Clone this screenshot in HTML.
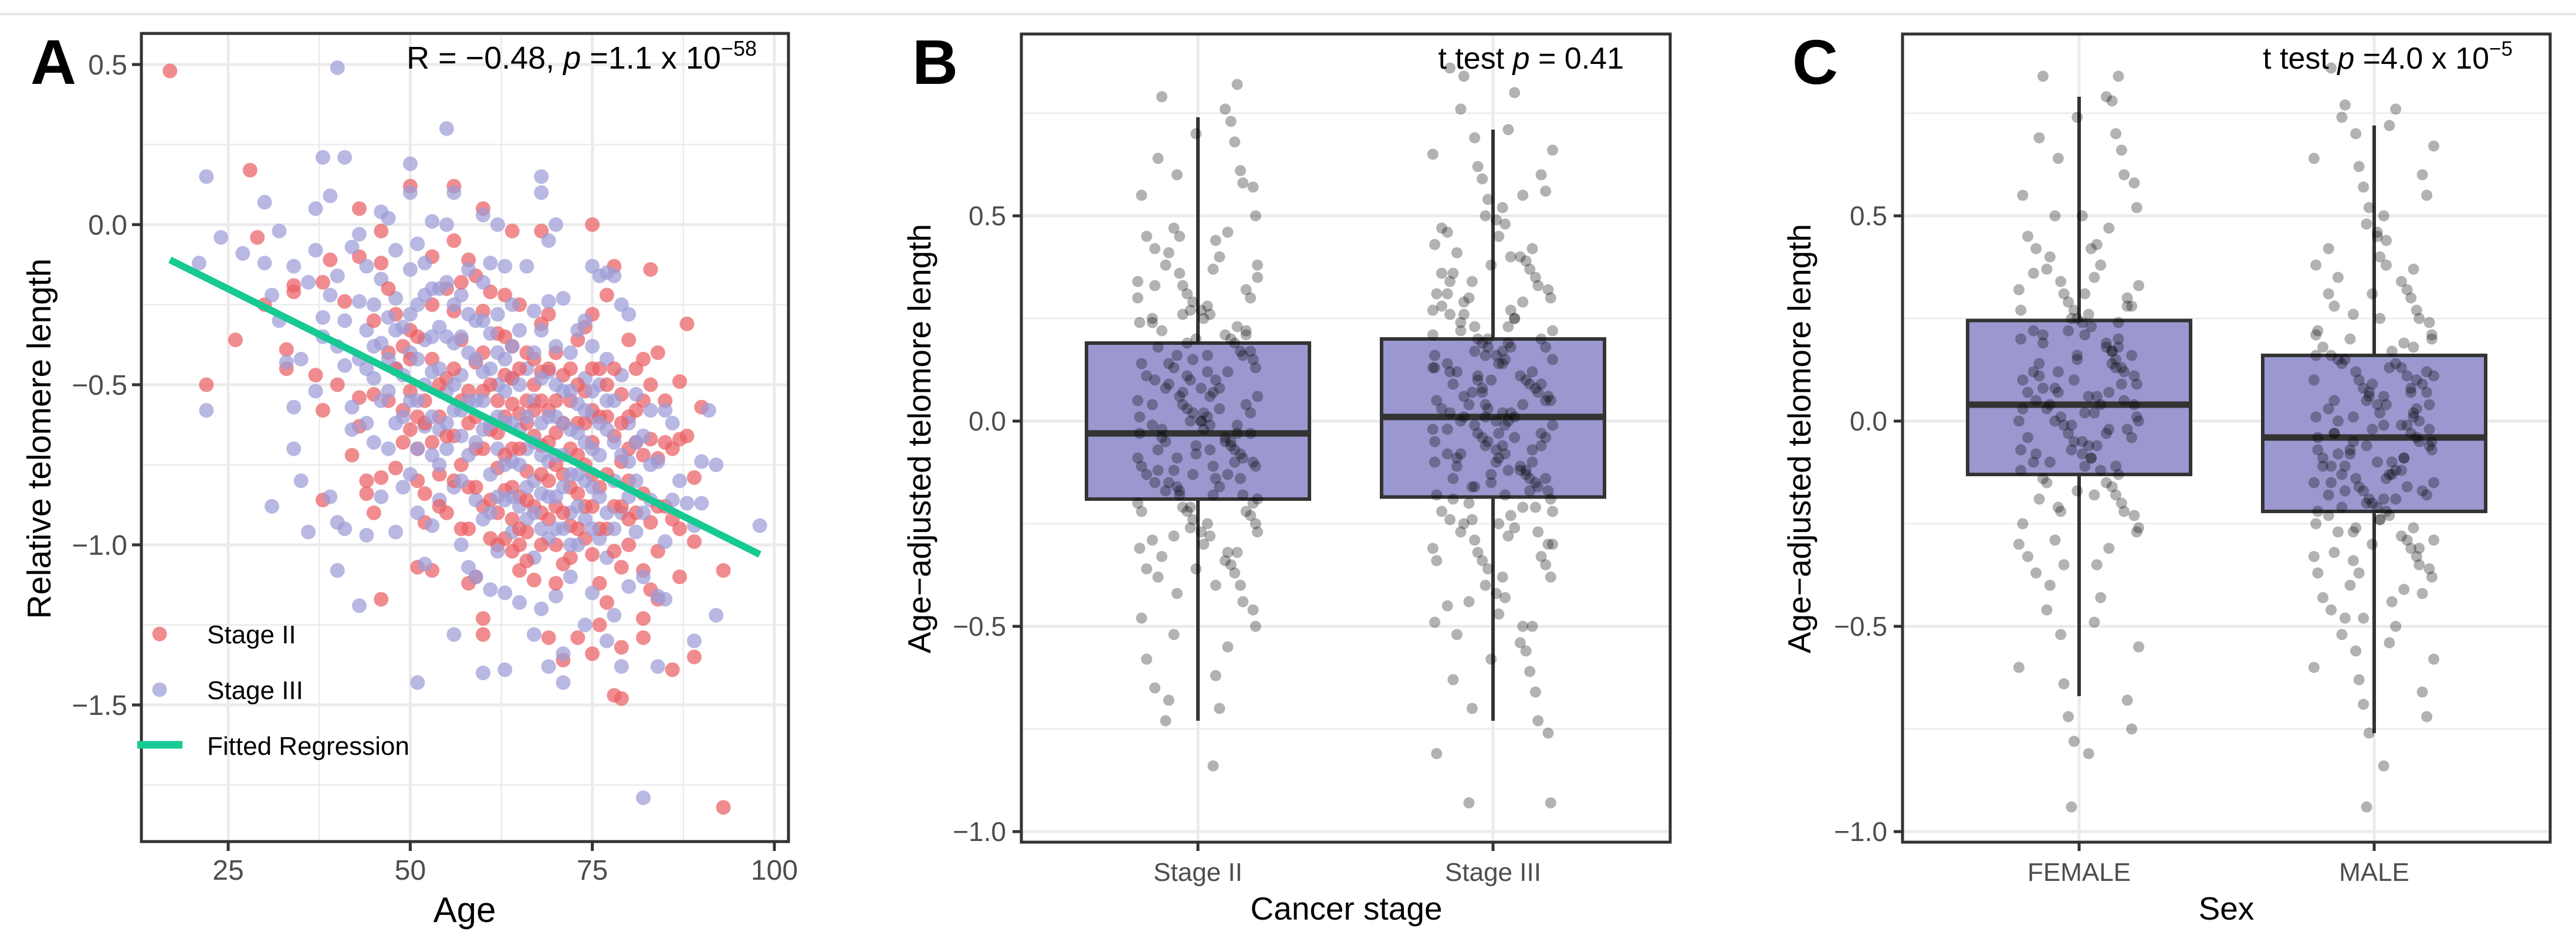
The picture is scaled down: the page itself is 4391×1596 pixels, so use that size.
<!DOCTYPE html>
<html><head><meta charset="utf-8"><style>
html,body{margin:0;padding:0;background:#fff;}
svg{display:block;font-family:"Liberation Sans",Arial,sans-serif;}
</style></head><body>
<svg id="fig" width="4391" height="1596" viewBox="0 0 4391 1596" xmlns="http://www.w3.org/2000/svg">
<line x1="0" y1="24" x2="4391" y2="24" stroke="#e6e6e6" stroke-width="4"/>
<g id="pA"></g>
<g id="pB"></g>
<g id="pC"></g>
</svg>
<script>
// ---------- Panel A data ----------
const aXTicks=[25,50,75,100];
const aYTicks=[0.5,0,-0.5,-1.0,-1.5];
const aYTickLabels=["0.5","0.0","\u22120.5","\u22121.0","\u22121.5"];
const fitLine=[[17,-0.11],[98,-1.03]];
const redPts=[[17,0.48],[28,0.17],[29,-0.04],[26,-0.36],[22,-0.50],[30,-0.25],[33,-0.39],[33,-0.45],[34,-0.19],[34,-0.21],[37,-0.47],[38,-0.18],[38,-0.58],[38,-0.86],[39,-0.11],[40,-0.50],[41,-0.24],[42,-0.72],[43,0.05],[43,-0.10],[43,-0.54],[43,-0.63],[44,-0.80],[44,-0.84],[45,-0.53],[45,-0.90],[46,-0.02],[46,-0.12],[46,-0.79],[46,-1.17],[47,-0.40],[47,-0.55],[48,-0.28],[48,-0.76],[49,-0.38],[49,-0.58],[50,0.12],[50,-0.33],[50,-0.52],[50,-0.64],[51,-0.60],[51,-0.70],[51,-0.80],[51,-1.07],[52,-0.55],[52,-0.84],[52,-0.93],[53,-0.10],[53,-0.42],[53,-0.68],[53,-1.08],[54,-0.60],[54,-0.78],[55,-0.20],[55,-0.48],[55,-0.90],[56,0.12],[56,-0.05],[56,-0.27],[56,-0.66],[57,-0.36],[57,-0.55],[57,-0.75],[57,-0.95],[58,-0.11],[58,-0.62],[58,-0.82],[58,-1.12],[59,-0.16],[59,-0.43],[59,-0.70],[59,-1.10],[60,0.05],[60,-0.27],[60,-0.52],[60,-0.88],[60,-1.23],[60,-1.28],[61,-0.21],[61,-0.64],[61,-0.98],[62,-0.34],[62,-0.55],[62,-0.76],[62,-1.00],[63,-0.22],[63,-0.47],[63,-0.60],[63,-0.83],[63,-0.98],[64,-0.02],[64,-0.38],[64,-0.56],[64,-0.70],[64,-0.92],[65,-0.25],[65,-0.59],[65,-0.85],[65,-1.00],[65,-1.08],[66,-0.40],[66,-0.55],[66,-0.77],[66,-0.96],[67,-0.50],[67,-0.66],[67,-1.11],[68,-0.02],[68,-0.31],[68,-0.46],[68,-0.69],[68,-0.90],[69,-0.28],[69,-0.58],[69,-0.80],[69,-1.29],[70,-0.40],[70,-0.65],[70,-0.88],[70,-1.00],[71,-0.47],[71,-0.78],[71,-1.06],[71,-1.36],[72,-0.55],[72,-0.70],[72,-0.94],[73,-0.36],[73,-0.62],[73,-0.84],[73,-1.29],[74,-0.32],[74,-0.52],[74,-0.75],[74,-0.98],[75,0.00],[75,-0.28],[75,-0.58],[75,-0.68],[75,-0.88],[75,-1.03],[75,-1.34],[76,-0.45],[76,-0.82],[76,-1.12],[76,-1.25],[77,-0.22],[77,-0.60],[77,-0.95],[77,-1.18],[78,-0.13],[78,-0.66],[78,-0.88],[78,-1.47],[79,-0.53],[79,-0.74],[79,-1.07],[79,-1.32],[79,-1.48],[80,-0.36],[80,-0.60],[80,-0.80],[80,-1.00],[81,-0.45],[81,-0.68],[81,-0.90],[82,-0.42],[82,-0.55],[82,-0.84],[82,-1.08],[82,-1.23],[82,-1.29],[83,-0.14],[83,-0.67],[83,-0.93],[83,-1.14],[84,-0.40],[84,-0.73],[84,-1.02],[84,-1.17],[85,-0.55],[85,-0.88],[86,-0.70],[86,-1.39],[87,-0.49],[87,-0.67],[87,-0.95],[87,-1.10],[88,-0.31],[88,-0.66],[89,-0.79],[89,-0.99],[89,-1.35],[90,-0.57],[93,-1.08],[93,-1.82]];
const redPts2=[[45,-0.30],[47,-0.20],[48,-0.45],[49,-0.68],[50,-0.42],[51,-0.35],[52,-0.62],[53,-0.25],[54,-0.50],[54,-0.88],[55,-0.66],[56,-0.45],[56,-0.80],[57,-0.18],[58,-0.52],[58,-0.95],[59,-0.60],[59,-0.82],[60,-0.40],[60,-0.70],[61,-0.50],[61,-0.86],[62,-0.65],[62,-0.90],[63,-0.35],[63,-0.72],[64,-0.48],[64,-0.82],[64,-1.02],[65,-0.45],[65,-0.70],[65,-0.95],[66,-0.62],[66,-0.86],[66,-1.05],[67,-0.42],[67,-0.58],[67,-0.88],[68,-0.55],[68,-0.78],[68,-1.00],[69,-0.45],[69,-0.68],[69,-0.92],[70,-0.55],[70,-0.75],[70,-1.12],[71,-0.62],[71,-0.90],[72,-0.45],[72,-0.82],[72,-1.04],[73,-0.50],[73,-0.72],[73,-0.95],[74,-0.62],[74,-0.88],[75,-0.45],[75,-0.78],[76,-0.60],[76,-0.95],[77,-0.50],[77,-0.78],[78,-0.45],[78,-1.02],[79,-0.62],[79,-0.88],[80,-0.70],[80,-0.92],[81,-0.58],[82,-0.72],[83,-0.50],[84,-0.88],[85,-0.68],[86,-0.92]];
const purplePts=[[21,-0.12],[22,0.15],[22,-0.58],[24,-0.04],[27,-0.09],[30,0.07],[30,-0.12],[31,-0.22],[31,-0.88],[32,-0.02],[32,-0.30],[33,-0.43],[34,-0.13],[34,-0.57],[34,-0.70],[35,-0.42],[35,-0.80],[36,-0.18],[36,-0.96],[37,0.05],[37,-0.08],[37,-0.52],[38,0.21],[38,-0.29],[38,-0.35],[39,0.09],[39,-0.22],[39,-0.85],[40,0.49],[40,-0.16],[40,-0.38],[40,-0.93],[40,-1.08],[41,0.21],[41,-0.30],[41,-0.44],[41,-0.95],[42,-0.07],[42,-0.57],[42,-0.64],[43,-0.03],[43,-0.24],[43,-0.42],[43,-1.19],[44,-0.13],[44,-0.33],[44,-0.62],[44,-0.97],[45,-0.25],[45,-0.48],[45,-0.68],[46,0.04],[46,-0.17],[46,-0.37],[46,-0.85],[47,0.02],[47,-0.29],[47,-0.52],[47,-0.70],[48,-0.08],[48,-0.23],[48,-0.45],[48,-0.96],[49,-0.32],[49,-0.60],[49,-0.82],[50,0.19],[50,0.10],[50,-0.14],[50,-0.40],[50,-0.78],[51,-0.06],[51,-0.25],[51,-0.55],[51,-0.90],[51,-1.43],[52,-0.12],[52,-0.36],[52,-0.63],[52,-1.06],[53,0.01],[53,-0.20],[53,-0.46],[53,-0.72],[53,-0.94],[54,-0.32],[54,-0.64],[54,-0.86],[55,0.30],[55,0.00],[55,-0.18],[55,-0.52],[55,-0.70],[56,0.10],[56,-0.37],[56,-0.58],[56,-0.82],[56,-1.28],[57,-0.22],[57,-0.47],[57,-0.66],[57,-1.00],[58,-0.14],[58,-0.40],[58,-0.72],[58,-1.07],[59,-0.30],[59,-0.55],[59,-0.86],[59,-1.10],[60,0.03],[60,-0.18],[60,-0.46],[60,-0.64],[60,-0.92],[60,-1.40],[61,-0.12],[61,-0.34],[61,-0.78],[61,-1.14],[62,0.00],[62,-0.28],[62,-0.50],[62,-0.70],[62,-1.02],[63,-0.13],[63,-0.42],[63,-0.62],[63,-0.86],[63,-1.15],[63,-1.39],[64,-0.25],[64,-0.48],[64,-0.74],[64,-0.96],[65,-0.33],[65,-0.64],[65,-0.88],[65,-1.18],[66,-0.13],[66,-0.45],[66,-0.70],[66,-0.92],[67,-0.27],[67,-0.55],[67,-0.80],[67,-1.04],[67,-1.28],[68,0.15],[68,0.10],[68,-0.33],[68,-0.62],[68,-0.84],[68,-1.20],[69,-0.05],[69,-0.24],[69,-0.46],[69,-0.74],[69,-0.98],[69,-1.38],[70,0.00],[70,-0.38],[70,-0.60],[70,-0.85],[70,-1.16],[71,-0.23],[71,-0.52],[71,-0.72],[71,-0.95],[71,-1.34],[71,-1.43],[72,-0.40],[72,-0.64],[72,-0.90],[72,-1.10],[73,-0.33],[73,-0.56],[73,-0.78],[73,-1.00],[74,-0.30],[74,-0.48],[74,-0.68],[74,-0.92],[74,-1.25],[75,-0.13],[75,-0.38],[75,-0.60],[75,-0.82],[75,-1.15],[76,-0.16],[76,-0.50],[76,-0.72],[76,-0.98],[77,-0.15],[77,-0.42],[77,-0.64],[77,-1.04],[77,-1.30],[78,-0.16],[78,-0.55],[78,-0.80],[78,-1.22],[79,-0.25],[79,-0.47],[79,-0.90],[79,-1.38],[80,-0.28],[80,-0.62],[80,-0.74],[80,-1.13],[81,-0.53],[81,-0.80],[81,-0.96],[82,-0.66],[82,-1.10],[82,-1.79],[83,-0.58],[83,-0.86],[84,-0.74],[84,-1.16],[84,-1.38],[85,-0.58],[85,-0.99],[85,-1.17],[86,-0.62],[86,-0.86],[87,-0.80],[88,-0.87],[89,-0.94],[89,-1.30],[90,-0.74],[90,-0.87],[91,-0.58],[92,-0.75],[92,-1.22],[98,-0.94]];
const purplePts2=[[44,-0.45],[45,-0.38],[46,-0.55],[47,-0.42],[48,-0.33],[48,-0.62],[49,-0.47],[50,-0.28],[50,-0.55],[51,-0.42],[51,-0.70],[52,-0.22],[52,-0.50],[53,-0.35],[53,-0.60],[54,-0.20],[54,-0.45],[54,-0.75],[55,-0.35],[55,-0.62],[56,-0.25],[56,-0.50],[57,-0.35],[57,-0.58],[57,-0.80],[58,-0.28],[58,-0.55],[59,-0.42],[59,-0.68],[60,-0.30],[60,-0.55],[61,-0.45],[61,-0.62],[61,-0.90],[62,-0.40],[62,-0.60],[62,-0.85],[63,-0.52],[63,-0.75],[64,-0.38],[64,-0.62],[64,-0.85],[65,-0.50],[65,-0.75],[66,-0.60],[66,-0.82],[67,-0.40],[67,-0.68],[67,-0.90],[68,-0.48],[68,-0.72],[68,-0.95],[69,-0.60],[69,-0.85],[70,-0.50],[70,-0.72],[70,-0.95],[71,-0.62],[71,-0.82],[72,-0.52],[72,-0.78],[72,-1.00],[73,-0.65],[73,-0.88],[74,-0.58],[74,-0.80],[75,-0.52],[75,-0.70],[75,-0.95],[76,-0.62],[76,-0.85],[77,-0.55],[77,-0.90],[78,-0.68],[78,-0.95],[79,-0.72],[80,-0.85],[81,-0.68],[82,-0.90],[83,-0.75]];

// ---------- Box panels data ----------
const bCats=["Stage II","Stage III"];
const cCats=["FEMALE","MALE"];
const boxYTicks=[0.5,0,-0.5,-1.0];
const boxYTickLabels=["0.5","0.0","\u22120.5","\u22121.0"];
const bQ1=[-0.19,-0.185], bMed=[-0.03,0.01], bQ3=[0.19,0.20], bLo=[-0.73,-0.73], bHi=[0.74,0.71];
const cQ1=[-0.13,-0.22], cMed=[0.04,-0.04], cQ3=[0.245,0.16], cLo=[-0.67,-0.76], cHi=[0.79,0.72];
const jitter=[0.62,-0.81,0.15,-0.33,0.94,-0.57,0.28,-0.12,0.71,-0.95,0.43,-0.68,0.05,0.87,-0.24,0.52,-0.46,0.19,-0.89,0.76,-0.03,0.34,-0.72,0.91,-0.17,0.58,-0.51,0.09,-0.38,0.83,-0.63,0.24,-0.92,0.47,-0.08,0.67,-0.29];
const bStage2=[0.82,0.79,0.76,0.73,0.70,0.68,0.64,0.61,0.60,0.58,0.57,0.55,0.50,0.47,0.46,0.45,0.44,0.42,0.41,0.40,0.38,0.37,0.36,0.35,0.34,0.33,0.32,0.31,0.30,0.29,0.28,0.27,0.27,0.26,0.25,0.25,0.24,0.23,0.22,0.21,0.20,0.20,0.19,0.18,0.17,0.16,0.16,0.15,0.14,0.13,0.13,0.12,0.11,0.10,0.10,0.09,0.08,0.08,0.07,0.06,0.06,0.05,0.04,0.04,0.03,0.02,0.02,0.01,0.00,0.00,-0.01,-0.01,-0.02,-0.03,-0.03,-0.04,-0.05,-0.05,-0.06,-0.07,-0.07,-0.08,-0.09,-0.09,-0.10,-0.11,-0.11,-0.12,-0.13,-0.13,-0.14,-0.15,-0.15,-0.16,-0.17,-0.18,-0.18,-0.19,-0.20,-0.21,-0.22,-0.22,-0.23,-0.24,-0.25,-0.26,-0.27,-0.28,-0.29,-0.30,-0.31,-0.32,-0.33,-0.34,-0.35,-0.36,-0.37,-0.38,-0.40,-0.42,-0.44,-0.46,-0.48,-0.50,-0.52,-0.55,-0.58,-0.62,-0.65,-0.68,-0.70,-0.73,-0.84];
const bStage2b=[0.45,0.38,0.30,0.26,0.22,0.19,0.17,0.15,0.12,0.10,0.08,0.06,0.04,0.02,0.01,-0.01,-0.02,-0.04,-0.06,-0.08,-0.10,-0.12,-0.14,-0.16,-0.18,-0.20,-0.22,-0.25,-0.28,-0.32,-0.36,-0.40,0.33,0.14,0.03,-0.05,-0.11,-0.17,-0.27,-0.09,0.07,0.21,0.11,-0.03,-0.13,0.16,-0.21,0.00,-0.07,0.24];
const bStage3=[0.86,0.84,0.80,0.76,0.71,0.69,0.66,0.65,0.62,0.60,0.59,0.56,0.54,0.52,0.50,0.49,0.48,0.46,0.45,0.43,0.42,0.41,0.40,0.39,0.38,0.37,0.36,0.35,0.34,0.33,0.32,0.31,0.30,0.30,0.29,0.28,0.27,0.26,0.26,0.25,0.24,0.23,0.23,0.22,0.21,0.20,0.20,0.19,0.18,0.18,0.17,0.16,0.16,0.15,0.14,0.14,0.13,0.12,0.12,0.11,0.10,0.10,0.09,0.09,0.08,0.07,0.07,0.06,0.05,0.05,0.04,0.04,0.03,0.02,0.02,0.01,0.01,0.00,0.00,-0.01,-0.01,-0.02,-0.03,-0.03,-0.04,-0.04,-0.05,-0.06,-0.06,-0.07,-0.08,-0.08,-0.09,-0.10,-0.10,-0.11,-0.12,-0.12,-0.13,-0.14,-0.14,-0.15,-0.16,-0.16,-0.17,-0.18,-0.19,-0.20,-0.21,-0.22,-0.23,-0.24,-0.25,-0.26,-0.27,-0.28,-0.29,-0.30,-0.31,-0.32,-0.33,-0.34,-0.35,-0.36,-0.38,-0.40,-0.42,-0.43,-0.45,-0.47,-0.49,-0.50,-0.52,-0.54,-0.56,-0.58,-0.61,-0.63,-0.66,-0.70,-0.73,-0.76,-0.81,-0.93,-0.93];
const bStage3b=[0.55,0.47,0.40,0.34,0.29,0.25,0.22,0.19,0.17,0.15,0.13,0.11,0.09,0.07,0.05,0.03,0.02,0.01,0.00,-0.01,-0.02,-0.03,-0.05,-0.07,-0.09,-0.11,-0.13,-0.15,-0.17,-0.19,-0.21,-0.24,-0.27,-0.30,-0.34,-0.38,-0.44,-0.50,0.36,0.18,0.12,0.06,-0.04,-0.08,-0.12,-0.16,-0.22,0.27,0.10,-0.06,0.08,-0.14,0.20,0.14,0.04,-0.10,-0.18,0.31,-0.25,0.16];
const cFemale=[0.84,0.84,0.79,0.78,0.74,0.70,0.69,0.66,0.64,0.60,0.58,0.55,0.52,0.50,0.47,0.45,0.43,0.42,0.40,0.38,0.37,0.35,0.34,0.33,0.32,0.31,0.30,0.29,0.28,0.27,0.26,0.25,0.24,0.23,0.22,0.21,0.20,0.20,0.19,0.18,0.17,0.16,0.15,0.14,0.13,0.12,0.12,0.11,0.10,0.09,0.08,0.07,0.07,0.06,0.05,0.04,0.04,0.03,0.02,0.01,0.00,0.00,-0.01,-0.02,-0.03,-0.04,-0.05,-0.06,-0.07,-0.08,-0.09,-0.10,-0.11,-0.12,-0.13,-0.14,-0.15,-0.16,-0.17,-0.18,-0.19,-0.20,-0.21,-0.22,-0.23,-0.25,-0.27,-0.29,-0.31,-0.33,-0.35,-0.37,-0.40,-0.43,-0.46,-0.49,-0.52,-0.55,-0.60,-0.64,-0.68,-0.72,-0.75,-0.78,-0.81,-0.94];
const cFemaleb=[0.50,0.42,0.36,0.31,0.27,0.24,0.21,0.19,0.17,0.15,0.13,0.11,0.09,0.07,0.05,0.04,0.03,0.01,0.00,-0.02,-0.04,-0.06,-0.08,-0.10,-0.12,-0.15,-0.18,-0.22,-0.26,-0.30,-0.35,0.28,0.22,0.16,0.10,0.06,-0.01,-0.05,-0.09,0.12,0.02,-0.07,0.18,0.08,-0.03,0.14,0.25,-0.11];
const cMale=[0.86,0.77,0.76,0.74,0.72,0.70,0.67,0.64,0.62,0.60,0.57,0.55,0.52,0.50,0.48,0.46,0.44,0.42,0.40,0.38,0.37,0.35,0.34,0.32,0.31,0.30,0.28,0.27,0.26,0.25,0.24,0.22,0.21,0.20,0.19,0.18,0.17,0.16,0.15,0.14,0.14,0.13,0.12,0.11,0.10,0.10,0.09,0.08,0.07,0.07,0.06,0.05,0.04,0.04,0.03,0.02,0.01,0.01,0.00,-0.01,-0.01,-0.02,-0.03,-0.03,-0.04,-0.05,-0.05,-0.06,-0.07,-0.07,-0.08,-0.09,-0.09,-0.10,-0.11,-0.11,-0.12,-0.13,-0.13,-0.14,-0.15,-0.15,-0.16,-0.17,-0.17,-0.18,-0.19,-0.19,-0.20,-0.21,-0.22,-0.23,-0.24,-0.25,-0.26,-0.27,-0.28,-0.29,-0.30,-0.31,-0.32,-0.33,-0.34,-0.35,-0.36,-0.37,-0.38,-0.40,-0.41,-0.43,-0.44,-0.46,-0.48,-0.50,-0.52,-0.54,-0.56,-0.58,-0.60,-0.63,-0.66,-0.69,-0.72,-0.76,-0.84,-0.94];
const cMaleb=[0.45,0.38,0.31,0.25,0.21,0.18,0.15,0.13,0.11,0.09,0.07,0.05,0.03,0.01,0.00,-0.02,-0.04,-0.05,-0.07,-0.09,-0.11,-0.13,-0.15,-0.17,-0.19,-0.21,-0.23,-0.26,-0.29,-0.33,-0.37,-0.42,-0.48,0.12,0.06,-0.01,-0.06,-0.10,-0.14,-0.18,-0.24,0.16,0.02,-0.08,-0.12,-0.16,-0.20,0.08,-0.03,0.10,-0.27,-0.31,0.04,-0.22,0.20];

const NS="http://www.w3.org/2000/svg";
function mk(parent,tag,attrs,text){
  const e=document.createElementNS(NS,tag);
  for(const k in attrs) e.setAttribute(k,attrs[k]);
  if(text!==undefined) e.textContent=text;
  parent.appendChild(e); return e;
}

// ---------- Panel A ----------
(function(){
  const g=document.getElementById('pA');
  const L=241,R=1344,T=57,B=1435;
  const ax=v=>389+(v-25)*12.413;
  const ay=v=>383-v*546;
  [12.5,37.5,62.5,87.5].forEach(v=>{const x=ax(v); if(x>L&&x<R){const l=mk(g,'line',{x1:x,y1:T,x2:x,y2:B,stroke:'#ebebeb','stroke-width':2.5});
     }});
  [0.25,-0.25,-0.75,-1.25,-1.75].forEach(v=>{const y=ay(v); const l=mk(g,'line',{x1:L,y1:y,x2:R,y2:y,stroke:'#ebebeb','stroke-width':2.5});
     });
  aXTicks.forEach(v=>{const x=ax(v); const l=mk(g,'line',{x1:x,y1:T,x2:x,y2:B,stroke:'#ebebeb','stroke-width':5});
     
    const t=mk(g,'line',{x1:x,y1:B,x2:x,y2:B+16,stroke:'#333','stroke-width':5});
     
    const tl=mk(g,'text',{x:x,y:1500,'text-anchor':'middle','font-size':48,fill:'#4d4d4d'},String(v));
     });
  aYTicks.forEach((v,i)=>{const y=ay(v); const l=mk(g,'line',{x1:L,y1:y,x2:R,y2:y,stroke:'#ebebeb','stroke-width':5});
     
    const t=mk(g,'line',{x1:L-16,y1:y,x2:L,y2:y,stroke:'#333','stroke-width':5});
     
    const tl=mk(g,'text',{x:L-24,y:y+17,'text-anchor':'end','font-size':48,fill:'#4d4d4d'},aYTickLabels[i]);
     });
  const sp=mk(g,'g',{});
   
  const P=purplePts.concat(purplePts2), Rd=redPts.concat(redPts2);
  const n=Math.max(P.length,Rd.length);
  for(let i=0;i<n;i++){
    if(i<P.length){const p=P[i]; const c=mk(sp,'circle',{cx:ax(p[0]),cy:ay(p[1]),r:12.5,fill:'#9d9dd8','fill-opacity':0.72});
       }
    if(i<Rd.length){const p=Rd[i]; const c=mk(sp,'circle',{cx:ax(p[0]),cy:ay(p[1]),r:12.5,fill:'#ea6064','fill-opacity':0.72});
       }
  }
  const fl=mk(g,'line',{x1:ax(fitLine[0][0]),y1:ay(fitLine[0][1]),x2:ax(fitLine[1][0]),y2:ay(fitLine[1][1]),stroke:'#17c993','stroke-width':12});
   
  const bd=mk(g,'rect',{x:L,y:T,width:R-L,height:B-T,fill:'none',stroke:'#333','stroke-width':5});
   
  const lg=mk(g,'g',{});
   
  const c1=mk(lg,'circle',{cx:272,cy:1081,r:12.5,fill:'#ea6064','fill-opacity':0.72});
   
  const t1=mk(lg,'text',{x:353,y:1097,'font-size':44,fill:'#000'},'Stage II');
   
  const c2=mk(lg,'circle',{cx:272,cy:1176,r:12.5,fill:'#9d9dd8','fill-opacity':0.72});
   
  const t2=mk(lg,'text',{x:353,y:1192,'font-size':44,fill:'#000'},'Stage III');
   
  const l3=mk(lg,'line',{x1:234,y1:1270,x2:311,y2:1270,stroke:'#17c993','stroke-width':13});
   
  const t3=mk(lg,'text',{x:353,y:1287,'font-size':44,fill:'#000'},'Fitted Regression');
   
  const yt=mk(g,'text',{x:0,y:0,'text-anchor':'middle','font-size':57,fill:'#000',transform:'translate(86,748) rotate(-90)'},'Relative telomere length');
   
  const xt=mk(g,'text',{x:792,y:1572,'text-anchor':'middle','font-size':60,fill:'#000'},'Age');
   
  const an=mk(g,'text',{x:1290,y:117,'text-anchor':'end','font-size':54,fill:'#000'});
   
  an.innerHTML='R = \u22120.48, <tspan font-style="italic">p</tspan> =1.1 x 10<tspan font-size="36" dy="-22">\u221258</tspan>';
  const pl=mk(g,'text',{x:52,y:143,'font-size':108,'font-weight':'bold',fill:'#000'},'A');
   
})();

// ---------- Box panels ----------
function boxPanel(id,L,R,cx,cats,q1,med,q3,lo,hi,groups,xTitle,xTitleX,letter,letterX,annHTML,annX,ytX,tickFont){
  const g=document.getElementById(id);
  const T=58,B=1436;
  const by=v=>718-v*700;
  [0.75,0.25,-0.25,-0.75].forEach(v=>{const y=by(v); const l=mk(g,'line',{x1:L,y1:y,x2:R,y2:y,stroke:'#ebebeb','stroke-width':2.5});
     });
  boxYTicks.forEach((v,i)=>{const y=by(v); const l=mk(g,'line',{x1:L,y1:y,x2:R,y2:y,stroke:'#ebebeb','stroke-width':5});
     
    const t=mk(g,'line',{x1:L-15,y1:y,x2:L,y2:y,stroke:'#333','stroke-width':5});
     
    const tl=mk(g,'text',{x:L-26,y:y+16,'text-anchor':'end','font-size':46,fill:'#4d4d4d'},boxYTickLabels[i]);
     });
  cats.forEach((c,i)=>{const x=cx[i];
    const l=mk(g,'line',{x1:x,y1:T,x2:x,y2:B,stroke:'#ebebeb','stroke-width':5});
     
    const t=mk(g,'line',{x1:x,y1:B,x2:x,y2:B+15,stroke:'#333','stroke-width':5});
     
    const tl=mk(g,'text',{x:x,y:1502,'text-anchor':'middle','font-size':tickFont,fill:'#4d4d4d'},c);
     });
  cats.forEach((c,i)=>{const x=cx[i]; const hw=190;
    const bg=mk(g,'g',{});
     
    const w1=mk(bg,'line',{x1:x,y1:by(hi[i]),x2:x,y2:by(lo[i]),stroke:'#333','stroke-width':6});
     
    const r=mk(bg,'rect',{x:x-hw,y:by(q3[i]),width:2*hw,height:by(q1[i])-by(q3[i]),fill:'#9a98cf',stroke:'#333','stroke-width':6});
     
    const m=mk(bg,'line',{x1:x-hw,y1:by(med[i]),x2:x+hw,y2:by(med[i]),stroke:'#333','stroke-width':11});
     
  });
  groups.forEach((vals,gi)=>{
    const pg=mk(g,'g',{});
     
    vals.forEach((v,k)=>{const j=jitter[(k*5+gi*11)%jitter.length];
      const c=mk(pg,'circle',{cx:cx[gi]+j*108,cy:by(v),r:9.5,fill:'#000','fill-opacity':0.3});
       });
  });
  const bd=mk(g,'rect',{x:L,y:T,width:R-L,height:B-T,fill:'none',stroke:'#333','stroke-width':5});
   
  const yt=mk(g,'text',{x:0,y:0,'text-anchor':'middle','font-size':55,fill:'#000',transform:'translate('+ytX+',748) rotate(-90)'},'Age\u2212adjusted telomore length');
   
  const xt=mk(g,'text',{x:xTitleX,y:1568,'text-anchor':'middle','font-size':55,fill:'#000'},xTitle);
   
  const an=mk(g,'text',{x:annX,y:117,'text-anchor':'end','font-size':52,fill:'#000'});
   
  an.innerHTML=annHTML;
  const pl=mk(g,'text',{x:letterX,y:143,'font-size':108,'font-weight':'bold',fill:'#000'},letter);
   
}
boxPanel('pB',1741,2847,[2042,2545],bCats,bQ1,bMed,bQ3,bLo,bHi,[bStage2.concat(bStage2b),bStage3.concat(bStage3b)],'Cancer stage',2295,'B',1555,
  't test <tspan font-style="italic">p</tspan> = 0.41',2768,1586,44);
boxPanel('pC',3243,4347,[3544,4047],cCats,cQ1,cMed,cQ3,cLo,cHi,[cFemale.concat(cFemaleb),cMale.concat(cMaleb)],'Sex',3795,'C',3055,
  't test <tspan font-style="italic">p</tspan> =4.0 x 10<tspan font-size="35" dy="-22">\u22125</tspan>',4283,3086,44);
</script>
</body></html>
